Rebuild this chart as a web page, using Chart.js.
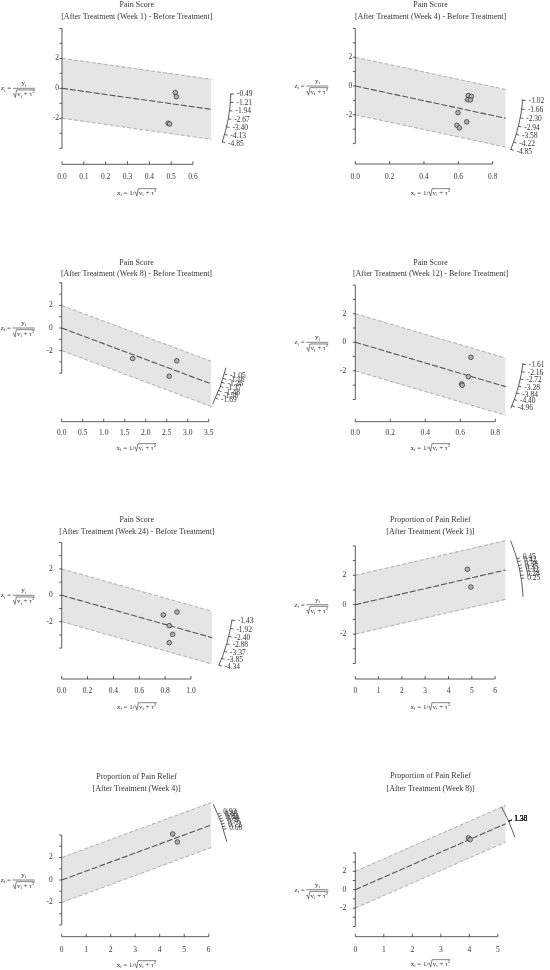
<!DOCTYPE html>
<html>
<head>
<meta charset="utf-8">
<script src="https://cdn.jsdelivr.net/npm/chart.js@4.4.1/dist/chart.umd.min.js"></script>
<style>
  html, body { margin: 0; padding: 0; background: #fff; }
  #wrap { position: relative; width: 550px; height: 970px; overflow: hidden; }
  #wrap canvas { position: absolute; left: 0; top: 0; }
</style>
</head>
<body>
<div id="wrap"></div>
<script>
// panel titles
const titles = ['Pain Score', 'Pain Score', 'Pain Score', 'Pain Score', 'Pain Score',
  'Proportion of Pain Relief', 'Proportion of Pain Relief', 'Proportion of Pain Relief'];
const subtitles = [
  '[After Treatment (Week 1) - Before Treatment]',
  '[After Treatment (Week 4) - Before Treatment]',
  '[After Treatment (Week 8) - Before Treatment]',
  '[After Treatment (Week 12) - Before Treatment]',
  '[After Treatment (Week 24) - Before Treatment]',
  '[After Treatment (Week 1)]',
  '[After Treatment (Week 4)]',
  '[After Treatment (Week 8)]'
];

// studies: x = 1/sqrt(v + tau^2), z = y/sqrt(v + tau^2)
const painW1X = [0.519, 0.524, 0.486, 0.493];
const painW1Z = [-0.29, -0.56, -2.33, -2.38];
const painW4X = [0.658, 0.676, 0.654, 0.670, 0.598, 0.592, 0.606, 0.649];
const painW4Z = [-0.67, -0.72, -0.95, -0.97, -1.85, -2.73, -2.91, -2.49];
const painW8X = [1.69, 2.74, 2.56];
const painW8Z = [-2.70, -2.90, -4.27];
const painW12X = [0.661, 0.646, 0.608, 0.611];
const painW12Z = [-1.05, -2.40, -2.91, -3.00];
const painW24X = [0.786, 0.892, 0.832, 0.858, 0.832];
const painW24Z = [-1.49, -1.27, -2.30, -2.96, -3.59];
const reliefW1X = [4.81, 4.96];
const reliefW1Z = [2.41, 1.20];
const reliefW4X = [4.53, 4.72];
const reliefW4Z = [4.09, 3.38];
const reliefW8X = [3.97, 4.03];
const reliefW8Z = [5.63, 5.45];

// pooled estimate (slope of the centre line)
const pooled = [-2.05, -2.56, -1.39, -3.61, -2.76, 0.366, 0.80, 1.36];

// radial (arc) scale tick labels
const arcTicks1 = [-0.49, -1.21, -1.94, -2.67, -3.40, -4.13, -4.85];
const arcTicks2 = [-1.02, -1.66, -2.30, -2.94, -3.58, -4.22, -4.85];
const arcTicks3 = [-1.05, -1.16, -1.26, -1.37, -1.48, -1.58, -1.69];
const arcTicks4 = [-1.61, -2.16, -2.72, -3.28, -3.84, -4.40, -4.96];
const arcTicks5 = [-1.43, -1.92, -2.40, -2.88, -3.37, -3.85, -4.34];
const arcTicks6 = [0.45, 0.42, 0.38, 0.35, 0.32, 0.28, 0.25];
const arcTicks7 = [0.92, 0.88, 0.84, 0.80, 0.76, 0.72, 0.68];
const arcTicks8 = [1.38, 1.38, 1.38, 1.38, 1.38, 1.38, 1.38];

// x axis tick labels
const xTicks1 = ['0.0', '0.1', '0.2', '0.3', '0.4', '0.5', '0.6'];
const xTicks2 = ['0.0', '0.2', '0.4', '0.6', '0.8'];
const xTicks3 = ['0.0', '0.5', '1.0', '1.5', '2.0', '2.5', '3.0', '3.5'];
const xTicks4 = ['0.0', '0.2', '0.4', '0.6', '0.8'];
const xTicks5 = ['0.0', '0.2', '0.4', '0.6', '0.8', '1.0'];
const xTicks6 = ['0', '1', '2', '3', '4', '5', '6'];
const xTicks7 = ['0', '1', '2', '3', '4', '5', '6'];
const xTicks8 = ['0', '1', '2', '3', '4', '5'];

// y axis
const yTicks = [-4, -3, -2, -1, 0, 1, 2, 3, 4];
const yLabels = [-2, 0, 2];

const studyX = [painW1X, painW4X, painW8X, painW12X, painW24X, reliefW1X, reliefW4X, reliefW8X];
const studyZ = [painW1Z, painW4Z, painW8Z, painW12Z, painW24Z, reliefW1Z, reliefW4Z, reliefW8Z];
const arcTicks = [arcTicks1, arcTicks2, arcTicks3, arcTicks4, arcTicks5, arcTicks6, arcTicks7, arcTicks8];
const xTicks = [xTicks1, xTicks2, xTicks3, xTicks4, xTicks5, xTicks6, xTicks7, xTicks8];

// page layout of each panel (pixels) and axis limits
const layout = [
  {ax: 62,    oy: 88.3,  xu: 218.3, yu: 15,    xMax: 0.685, axisY: 164.3, labY: 177,   ttlY: 193, t1: 5,     t2: 16.5,  R: 169,   arc: [-0.43, -4.95], gap: 3},
  {ax: 355.3, oy: 86,    xu: 171.7, yu: 14.4,  xMax: 0.876, axisY: 164,   labY: 177,   ttlY: 193, t1: 5,     t2: 16.5,  R: 168,   arc: [-0.95, -4.95], gap: 3},
  {ax: 61.7,  oy: 328,   xu: 42,    yu: 11.3,  xMax: 3.56,  axisY: 421.7, labY: 433.3, ttlY: 448, t1: 262.7, t2: 274,   R: 169,   arc: [-0.9, -1.87],  gap: 9},
  {ax: 355.3, oy: 342.3, xu: 175,   yu: 14.3,  xMax: 0.859, axisY: 421.7, labY: 433.3, ttlY: 448, t1: 262.7, t2: 274,   R: 169,   arc: [-1.5, -5.2],   gap: 9},
  {ax: 61.7,  oy: 595.3, xu: 129.3, yu: 13.2,  xMax: 1.162, axisY: 679,   labY: 691,   ttlY: 707, t1: 520,   t2: 532.3, R: 172,   arc: [-1.4, -4.4],   gap: 9},
  {ax: 355.3, oy: 604.7, xu: 23.3,  yu: 14.7,  xMax: 6.45,  axisY: 679,   labY: 691,   ttlY: 707, t1: 520,   t2: 532.3, R: 168,   arc: [0.655, 0.075], gap: 9},
  {ax: 61.7,  oy: 880,   xu: 24.5,  yu: 11.25, xMax: 6.11,  axisY: 936.7, labY: 950,   ttlY: 965, t1: 777.3, t2: 789.3, R: 169.5, arc: [1.09, 0.506],  gap: 9},
  {ax: 355.3, oy: 889.7, xu: 28.5,  yu: 9.2,   xMax: 5.28,  axisY: 936.7, labY: 950,   ttlY: 964, t1: 776,   t2: 789.3, R: 168,   arc: [1.756, 1.016], gap: 9}
];

const W = 550, H = 970;
const FONT = '"Liberation Serif", "DejaVu Serif", serif';
const INK = '#333';

function setFont(ctx, size) { ctx.font = size + 'px ' + FONT; }

// tiny plotmath: segments with optional sub/sup
function richWidth(ctx, segs, fs) {
  let w = 0;
  segs.forEach(s => { setFont(ctx, s.sub || s.sup ? fs * 0.7 : fs); w += ctx.measureText(s.t).width; });
  return w;
}
function drawRich(ctx, segs, x, y, fs) {
  segs.forEach(s => {
    setFont(ctx, s.sub || s.sup ? fs * 0.7 : fs);
    const dy = s.sub ? fs * 0.3 : (s.sup ? -fs * 0.35 : 0);
    ctx.fillText(s.t, x, y + dy);
    x += ctx.measureText(s.t).width;
  });
  return x;
}
const radicand = [{t: 'v'}, {t: 'i', sub: true}, {t: ' + τ'}, {t: '2', sup: true}];
function drawSqrt(ctx, x, y, fs) {
  const w = richWidth(ctx, radicand, fs);
  const top = y - fs * 0.62;
  ctx.beginPath();
  ctx.moveTo(x, y);
  ctx.lineTo(x + 1, y - 0.8);
  ctx.lineTo(x + 2.2, y + fs * 0.45);
  ctx.lineTo(x + 3.6, top);
  ctx.lineTo(x + 4.4 + w, top);
  ctx.stroke();
  drawRich(ctx, radicand, x + 4.2, y, fs);
  return x + 4.4 + w;
}
function sqrtWidth(ctx, fs) { return 4.4 + richWidth(ctx, radicand, fs); }

function drawYTitle(ctx, rightX, cy) {
  const fs = 7;
  const lhs = [{t: 'z'}, {t: 'i', sub: true}, {t: ' = '}];
  const denW = sqrtWidth(ctx, fs);
  const lhsW = richWidth(ctx, lhs, fs);
  const x0 = rightX - denW - lhsW;
  drawRich(ctx, lhs, x0, cy, fs);
  const fx = x0 + lhsW;
  const num = [{t: 'y'}, {t: 'i', sub: true}];
  drawRich(ctx, num, fx + (denW - richWidth(ctx, num, fs)) / 2, cy - 5, fs);
  ctx.beginPath(); ctx.moveTo(fx, cy); ctx.lineTo(fx + denW, cy); ctx.stroke();
  drawSqrt(ctx, fx, cy + 6, fs);
}
function drawXTitle(ctx, cx, cy) {
  const fs = 7;
  const lhs = [{t: 'x'}, {t: 'i', sub: true}, {t: ' = 1/'}];
  const w = richWidth(ctx, lhs, fs) + sqrtWidth(ctx, fs);
  const x = drawRich(ctx, lhs, cx - w / 2, cy, fs);
  drawSqrt(ctx, x, cy, fs);
}

// R-style axes, titles and the radial arc scale
const radialDecor = {
  id: 'radialDecor',
  afterDraw(chart, args, o) {
    const {ctx, chartArea: ca} = chart;
    const xs = chart.scales.x, ys = chart.scales.y;
    const L = o.lay;
    const ox = xs.getPixelForValue(0), oy = ys.getPixelForValue(0);
    ctx.save();
    ctx.strokeStyle = INK; ctx.fillStyle = INK; ctx.lineWidth = 0.8;
    ctx.textBaseline = 'middle';

    // y axis
    ctx.beginPath();
    ctx.moveTo(ox, ys.getPixelForValue(yTicks[0]));
    ctx.lineTo(ox, ys.getPixelForValue(yTicks[yTicks.length - 1]));
    ctx.stroke();
    yTicks.forEach(v => {
      const py = ys.getPixelForValue(v);
      ctx.beginPath(); ctx.moveTo(ox - 2.5, py); ctx.lineTo(ox, py); ctx.stroke();
    });
    setFont(ctx, 7.5); ctx.textAlign = 'right';
    yLabels.forEach(v => ctx.fillText(String(v), ox - L.gap, ys.getPixelForValue(v)));

    // x axis (detached, spans first to last tick)
    const xt = o.xTicks.map(parseFloat);
    ctx.beginPath();
    ctx.moveTo(xs.getPixelForValue(xt[0]), L.axisY);
    ctx.lineTo(xs.getPixelForValue(xt[xt.length - 1]), L.axisY);
    ctx.stroke();
    ctx.textAlign = 'center';
    o.xTicks.forEach((lab, i) => {
      const px = xs.getPixelForValue(xt[i]);
      ctx.beginPath(); ctx.moveTo(px, L.axisY - 3); ctx.lineTo(px, L.axisY); ctx.stroke();
      ctx.fillText(lab, px, L.labY);
    });

    // titles
    const cx = (ca.left + ca.right) / 2;
    setFont(ctx, 8);
    ctx.fillText(o.title, cx, L.t1);
    ctx.fillText(o.subtitle, cx, L.t2);

    // axis titles
    ctx.textAlign = 'left';
    ctx.lineWidth = 0.6;
    drawYTitle(ctx, ox - 27, oy);
    drawXTitle(ctx, cx, L.ttlY);

    // arc scale
    const ux = xs.getPixelForValue(1) - ox;
    const ang = v => Math.atan2(ys.getPixelForValue(v) - oy, ux);
    const a0 = ang(L.arc[0]), a1 = ang(L.arc[1]);
    ctx.lineWidth = 0.8;
    ctx.beginPath();
    ctx.arc(ox, oy, L.R, Math.min(a0, a1), Math.max(a0, a1));
    ctx.stroke();
    setFont(ctx, 7.5);
    o.arcTicks.forEach(v => {
      const a = ang(v), c = Math.cos(a), s = Math.sin(a);
      ctx.beginPath();
      ctx.moveTo(ox + L.R * c, oy + L.R * s);
      ctx.lineTo(ox + (L.R + 3) * c, oy + (L.R + 3) * s);
      ctx.stroke();
      ctx.fillText(v.toFixed(2), ox + (L.R + 6) * c, oy + (L.R + 6) * s);
    });
    ctx.restore();
  }
};

const wrap = document.getElementById('wrap');
layout.forEach((L, i) => {
  const b = pooled[i];
  const endC = b * L.xMax;
  const yMax = Math.max(4, endC + 2) + 0.3;
  const yMin = Math.min(-4, endC - 2) - 0.3;
  const right = L.ax + L.xMax * L.xu;
  const top = L.oy - yMax * L.yu;
  const bottom = L.oy - yMin * L.yu;

  const canvas = document.createElement('canvas');
  canvas.width = W; canvas.height = H;
  wrap.appendChild(canvas);

  const edge = {type: 'line', borderColor: '#9c9c9c', borderWidth: 0.8, borderDash: [4, 2],
    pointRadius: 0, clip: false, tension: 0};

  new Chart(canvas.getContext('2d'), {
    data: {
      datasets: [
        {type: 'scatter', order: 0, clip: false,
          data: studyX[i].map((x, k) => ({x: x, y: studyZ[i][k]})),
          pointRadius: 2.3, pointBackgroundColor: '#b4b4b4', pointBorderColor: '#3a3a3a', pointBorderWidth: 0.8},
        {type: 'line', order: 1, clip: false, data: [{x: 0, y: 0}, {x: L.xMax, y: endC}],
          borderColor: '#555', borderWidth: 1.1, borderDash: [6, 2], pointRadius: 0, fill: false},
        Object.assign({}, edge, {order: 3, data: [{x: 0, y: 2}, {x: L.xMax, y: endC + 2}],
          fill: '+1', backgroundColor: '#e5e5e5'}),
        Object.assign({}, edge, {order: 2, data: [{x: 0, y: -2}, {x: L.xMax, y: endC - 2}], fill: false})
      ]
    },
    options: {
      responsive: false,
      animation: false,
      events: [],
      layout: {padding: {left: L.ax, right: W - right, top: top, bottom: H - bottom}},
      scales: {
        x: {type: 'linear', min: 0, max: L.xMax, display: false},
        y: {type: 'linear', min: yMin, max: yMax, display: false}
      },
      plugins: {
        legend: {display: false},
        tooltip: {enabled: false},
        radialDecor: {lay: L, xTicks: xTicks[i], arcTicks: arcTicks[i], title: titles[i], subtitle: subtitles[i]}
      }
    },
    plugins: [radialDecor]
  });
});
</script>
</body>
</html>
